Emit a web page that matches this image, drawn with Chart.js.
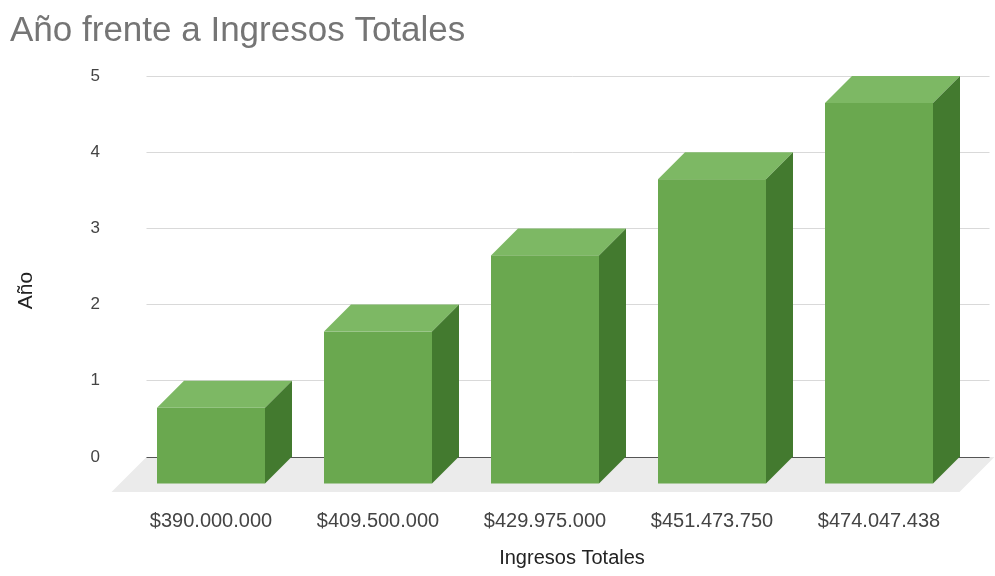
<!DOCTYPE html>
<html>
<head>
<meta charset="utf-8">
<script src="https://cdn.jsdelivr.net/npm/chart.js@4/dist/chart.umd.min.js"></script>
<style>
  html, body { margin: 0; padding: 0; background: #fff; }
  #wrap { width: 995px; height: 576px; }
</style>
</head>
<body>
<div id="wrap"><canvas id="ingresosChart"></canvas></div>
<script>
// Datos
const ingresos = ['$390.000.000', '$409.500.000', '$429.975.000', '$451.473.750', '$474.047.438'];
const anios = [1, 2, 3, 4, 5];
const yMin = 0;
const yMax = 5;
const yStep = 1;

// Profundidad del efecto 3D (px)
const DEPTH = 27;
const FLOOR = 35;

const FRONT = '#6aa84f';
const TOP = '#7db864';
const SIDE = '#437a2f';

// Suelo gris, cajas 3D y título del eje Y
const bars3d = {
  id: 'bars3d',
  beforeDraw(chart) {
    const { ctx, chartArea, scales } = chart;
    const y0 = scales.y.getPixelForValue(0);
    const l = chartArea.left - 8, r = chartArea.right + 5;
    ctx.save();
    ctx.fillStyle = '#ebebeb';
    ctx.beginPath();
    ctx.moveTo(l, y0);
    ctx.lineTo(r, y0);
    ctx.lineTo(r - FLOOR, y0 + FLOOR);
    ctx.lineTo(l - FLOOR, y0 + FLOOR);
    ctx.closePath();
    ctx.fill();
    ctx.restore();
  },
  afterDatasetsDraw(chart) {
    const ctx = chart.ctx;
    const meta = chart.getDatasetMeta(0);
    ctx.save();
    meta.data.forEach(bar => {
      const { x, y, base, width } = bar.getProps(['x', 'y', 'base', 'width'], true);
      const xl = x - width / 2, xr = x + width / 2;
      const d = DEPTH;
      // cara superior
      ctx.fillStyle = TOP;
      ctx.beginPath();
      ctx.moveTo(xl - d, y + d);
      ctx.lineTo(xl, y);
      ctx.lineTo(xr, y);
      ctx.lineTo(xr - d, y + d);
      ctx.closePath();
      ctx.fill();
      // lateral derecho
      ctx.fillStyle = SIDE;
      ctx.beginPath();
      ctx.moveTo(xr - d, y + d);
      ctx.lineTo(xr, y);
      ctx.lineTo(xr, base);
      ctx.lineTo(xr - d, base + d);
      ctx.closePath();
      ctx.fill();
      // frente
      ctx.fillStyle = FRONT;
      ctx.fillRect(xl - d, y + d, width, base - y);
    });
    ctx.restore();
  },
  afterDraw(chart) {
    const { ctx, chartArea } = chart;
    ctx.save();
    ctx.translate(26, (chartArea.top + chartArea.bottom) / 2 + 24);
    ctx.rotate(-Math.PI / 2);
    ctx.font = '21px "Liberation Sans", Arial, sans-serif';
    ctx.fillStyle = '#222';
    ctx.textAlign = 'center';
    ctx.textBaseline = 'middle';
    ctx.fillText('Año', 0, 0);
    ctx.restore();
  }
};

Chart.defaults.font.family = '"Liberation Sans", Arial, sans-serif';

new Chart(document.getElementById('ingresosChart'), {
  type: 'bar',
  data: {
    labels: ingresos,
    datasets: [{
      label: 'Año',
      data: anios,
      backgroundColor: 'rgba(0,0,0,0)',
      borderWidth: 0,
      barThickness: 108
    }]
  },
  options: {
    responsive: true,
    maintainAspectRatio: false,
    animation: false,
    layout: { padding: { left: 10, right: 5.5, top: 0, bottom: 0 } },
    plugins: {
      legend: { display: false },
      tooltip: { enabled: false },
      title: {
        display: true,
        text: 'Año frente a Ingresos Totales',
        align: 'start',
        color: '#757575',
        font: { size: 35, weight: 'normal' },
        padding: { top: 10, bottom: 24 }
      }
    },
    scales: {
      x: {
        grid: { display: false },
        border: { display: false },
        ticks: {
          color: '#444',
          font: { size: 20 },
          padding: 44,
          labelOffset: -DEPTH,
          maxRotation: 0,
          autoSkip: false
        },
        title: {
          display: true,
          text: 'Ingresos Totales',
          color: '#222',
          font: { size: 20 },
          padding: { top: 0, bottom: 6 }
        },
        afterFit(scale) {
          scale.height = 119;
          scale.paddingLeft = 0;
          scale.paddingRight = 0;
        }
      },
      y: {
        min: yMin,
        max: yMax,
        border: { display: false },
        grid: {
          color: c => c.tick && c.tick.value === 0 ? '#555' : '#d9d9d9',
          tickColor: c => c.tick && c.tick.value === 0 ? '#555' : '#d9d9d9',
          drawTicks: true,
          tickLength: 8
        },
        ticks: {
          stepSize: yStep,
          color: '#444',
          font: { size: 17 },
          padding: 46.5
        },
        afterFit(scale) { scale.width = 144.5; }
      }
    }
  },
  plugins: [bars3d]
});
</script>
</body>
</html>
